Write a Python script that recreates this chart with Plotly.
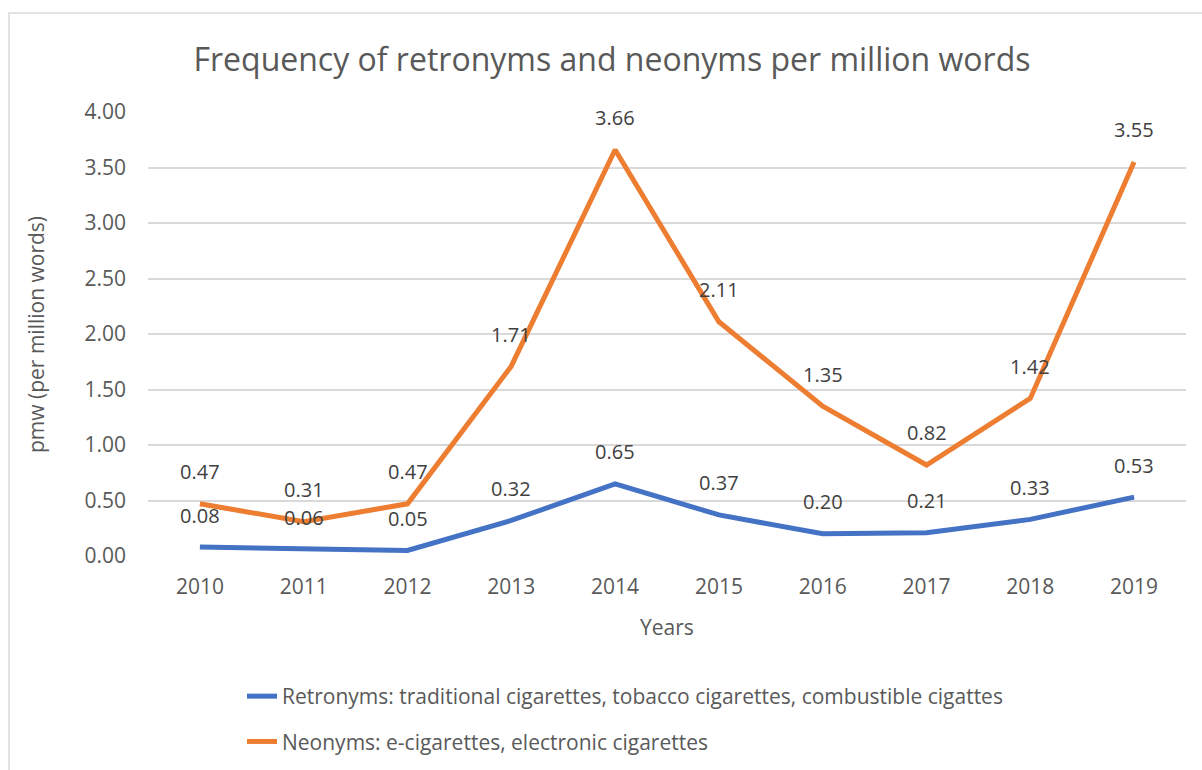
import plotly.graph_objects as go

years = ["2010", "2011", "2012", "2013", "2014", "2015", "2016", "2017", "2018", "2019"]
retronyms = [0.08, 0.06, 0.05, 0.32, 0.65, 0.37, 0.20, 0.21, 0.33, 0.53]
neonyms = [0.47, 0.31, 0.47, 1.71, 3.66, 2.11, 1.35, 0.82, 1.42, 3.55]
retro_name = "Retronyms: traditional cigarettes, tobacco cigarettes, combustible cigattes"
neo_name = "Neonyms: e-cigarettes, electronic cigarettes"
x_title = "Years"
y_title = "pmw (per million words)"

FONT = "Open Sans"
TXT = "#595959"
BLUE = "#4472C4"
ORANGE = "#ED7D31"
GRID = "#D9D9D9"

fig = go.Figure()
fig.add_trace(go.Scatter(x=years, y=retronyms, mode="lines", name=retro_name,
                         line=dict(color=BLUE, width=5), legendgroup="a"))
fig.add_trace(go.Scatter(x=years, y=neonyms, mode="lines", name=neo_name,
                         line=dict(color=ORANGE, width=5), legendgroup="b"))

L, R, T, B = 148, 16, 112, 214
W, H = 1202, 770
pw, ph = W - L - R, H - T - B

annotations = []
for series in (retronyms, neonyms):
    for i, v in enumerate(series):
        annotations.append(dict(x=i, y=v, xref="x", yref="y", text=f"{v:.2f}",
                                showarrow=False, yshift=32,
                                font=dict(family=FONT, size=20, color="#404040")))
# axis titles
annotations.append(dict(text=x_title, xref="paper", yref="paper",
                        x=(667 - L) / pw, y=(H - B - 627) / ph,
                        xanchor="center", yanchor="middle", showarrow=False,
                        font=dict(family=FONT, size=21, color=TXT)))
annotations.append(dict(text=y_title, xref="paper", yref="paper",
                        x=(36 - L) / pw, y=(H - B - 335) / ph, textangle=-90,
                        xanchor="center", yanchor="middle", showarrow=False,
                        font=dict(family=FONT, size=21, color=TXT)))

fig.update_layout(
    width=W, height=H,
    margin=dict(l=L, r=R, t=T, b=B, autoexpand=False),
    paper_bgcolor="white", plot_bgcolor="white",
    font=dict(family=FONT, color=TXT, size=20),
    title=dict(text="Frequency of retronyms and neonyms per million words",
               xref="paper", x=(612 - L) / pw, xanchor="center",
               y=1 - 60 / H, yanchor="middle",
               font=dict(family=FONT, size=32, color=TXT)),
    xaxis=dict(type="category", range=[-0.5, 9.5], showgrid=False, zeroline=False,
               showline=False, ticks="", tickfont=dict(size=21, color=TXT),
               ticklabelstandoff=16, automargin=False),
    yaxis=dict(range=[0, 4], dtick=0.5, tickformat=".2f", showgrid=True,
               gridcolor=GRID, gridwidth=1.5, zeroline=False, showline=False,
               ticks="", tickfont=dict(size=21, color=TXT), ticklabelstandoff=21,
               automargin=False),
    showlegend=True,
    legend=dict(orientation="v", xref="container", yref="container",
                x=242 / W, xanchor="left", y=1 - 676 / H, yanchor="top",
                traceorder="grouped", tracegroupgap=15,
                font=dict(size=21, color=TXT), bgcolor="rgba(0,0,0,0)"),
    annotations=annotations,
    shapes=[dict(type="rect", xref="paper", yref="paper",
                 x0=(9 - L) / pw, x1=(W + 10 - L) / pw,
                 y0=(H - B - (H + 10)) / ph, y1=(H - B - 13) / ph,
                 line=dict(color=GRID, width=1.5), fillcolor="rgba(0,0,0,0)",
                 layer="below")],
)

fig.write_html("out.html")
